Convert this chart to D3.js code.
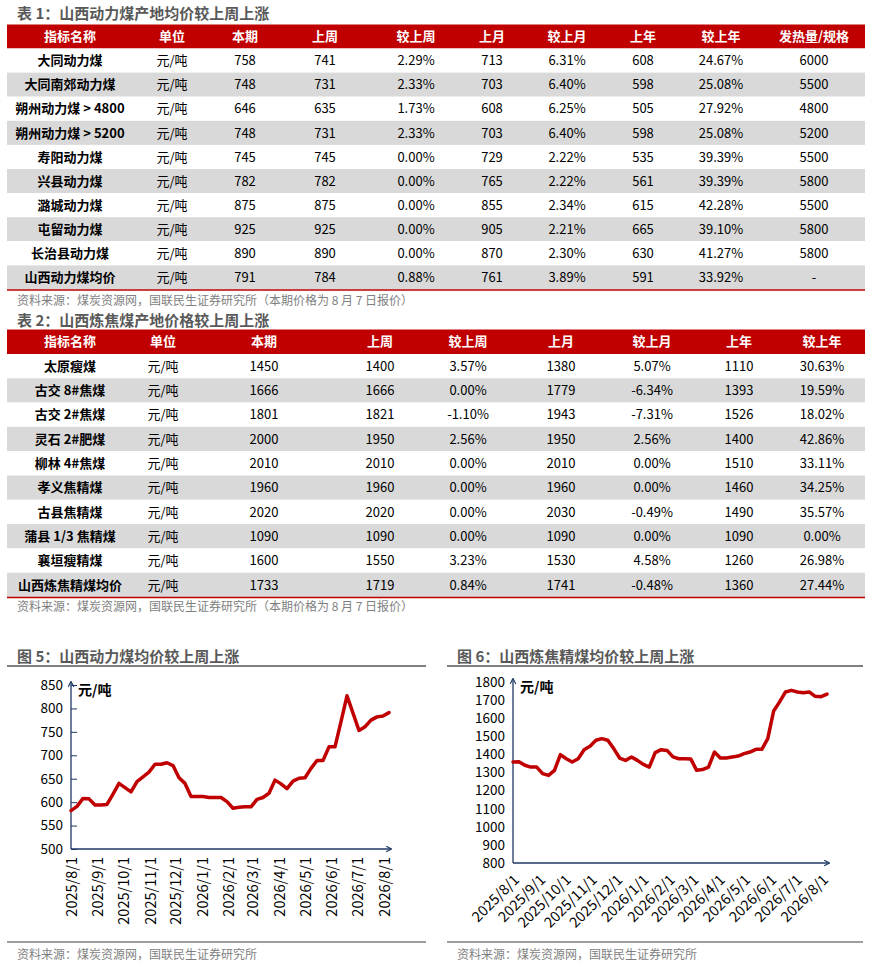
<!DOCTYPE html>
<html>
<head>
<meta charset="utf-8">
<script src="https://cdn.jsdelivr.net/npm/d3@7"></script>
<style>
  html, body { margin: 0; padding: 0; background: #fff; }
  svg { display: block; font-family: "Noto Sans CJK SC", "Noto Sans", sans-serif; }
</style>
</head>
<body>
<div id="chart"></div>
<script>
// ---- table 1: 山西动力煤 ----
const t1Header = ['指标名称', '单位', '本期', '上周', '较上周', '上月', '较上月', '上年', '较上年', '发热量/规格'];
const t1Names = ['大同动力煤', '大同南郊动力煤', '朔州动力煤 > 4800', '朔州动力煤 > 5200', '寿阳动力煤',
  '兴县动力煤', '潞城动力煤', '屯留动力煤', '长治县动力煤', '山西动力煤均价'];
const t1Current = [758, 748, 646, 748, 745, 782, 875, 925, 890, 791];
const t1LastWeek = [741, 731, 635, 731, 745, 782, 875, 925, 890, 784];
const t1WoW = ['2.29%', '2.33%', '1.73%', '2.33%', '0.00%', '0.00%', '0.00%', '0.00%', '0.00%', '0.88%'];
const t1LastMonth = [713, 703, 608, 703, 729, 765, 855, 905, 870, 761];
const t1MoM = ['6.31%', '6.40%', '6.25%', '6.40%', '2.22%', '2.22%', '2.34%', '2.21%', '2.30%', '3.89%'];
const t1LastYear = [608, 598, 505, 598, 535, 561, 615, 665, 630, 591];
const t1YoY = ['24.67%', '25.08%', '27.92%', '25.08%', '39.39%', '39.39%', '42.28%', '39.10%', '41.27%', '33.92%'];
const t1Spec = ['6000', '5500', '4800', '5200', '5500', '5800', '5500', '5800', '5800', '-'];

// ---- table 2: 山西炼焦煤 ----
const t2Header = ['指标名称', '单位', '本期', '上周', '较上周', '上月', '较上月', '上年', '较上年'];
const t2Names = ['太原瘦煤', '古交 8#焦煤', '古交 2#焦煤', '灵石 2#肥煤', '柳林 4#焦煤', '孝义焦精煤',
  '古县焦精煤', '蒲县 1/3 焦精煤', '襄垣瘦精煤', '山西炼焦精煤均价'];
const t2Current = [1450, 1666, 1801, 2000, 2010, 1960, 2020, 1090, 1600, 1733];
const t2LastWeek = [1400, 1666, 1821, 1950, 2010, 1960, 2020, 1090, 1550, 1719];
const t2WoW = ['3.57%', '0.00%', '-1.10%', '2.56%', '0.00%', '0.00%', '0.00%', '0.00%', '3.23%', '0.84%'];
const t2LastMonth = [1380, 1779, 1943, 1950, 2010, 1960, 2030, 1090, 1530, 1741];
const t2MoM = ['5.07%', '-6.34%', '-7.31%', '2.56%', '0.00%', '0.00%', '-0.49%', '0.00%', '4.58%', '-0.48%'];
const t2LastYear = [1110, 1393, 1526, 1400, 1510, 1460, 1490, 1090, 1260, 1360];
const t2YoY = ['30.63%', '19.59%', '18.02%', '42.86%', '33.11%', '34.25%', '35.57%', '0.00%', '26.98%', '27.44%'];

// ---- weekly series (from 2025/8/1) ----
const seriesStart = '2025-08-01';
const steamPrice = [582, 591, 608, 607, 594, 594, 595, 617, 640, 631, 622, 644, 654, 664, 681, 681, 684, 678,
  652, 640, 612, 612, 612, 610, 610, 610, 601, 587, 589, 590, 590, 606, 610, 619, 647, 639, 629, 645,
  651, 652, 672, 689, 689, 718, 718, 772, 827, 790, 753, 761, 775, 782, 784, 791];
const cokingPrice = [1358, 1360, 1340, 1330, 1330, 1294, 1284, 1312, 1399, 1376, 1358, 1376, 1426, 1445, 1478,
  1487, 1478, 1432, 1380, 1367, 1386, 1367, 1345, 1330, 1410, 1426, 1422, 1386, 1376, 1376, 1375, 1312,
  1316, 1330, 1413, 1380, 1380, 1386, 1391, 1404, 1413, 1428, 1428, 1487, 1640, 1690, 1745, 1754, 1745,
  1741, 1745, 1721, 1719, 1733];
const steamTicks = [500, 550, 600, 650, 700, 750, 800, 850];
const cokingTicks = [800, 900, 1000, 1100, 1200, 1300, 1400, 1500, 1600, 1700, 1800];

const RED = '#c00000';
const GREY_ROW = '#d9d9d9';
const TITLE = '#595959';
const NOTE = '#7f7f7f';
const AXIS = '#1f3864';

const svg = d3.select('#chart').append('svg')
  .attr('width', 873).attr('height', 969);

svg.append('defs').append('marker')
  .attr('id', 'arrow')
  .attr('viewBox', '0 0 10 10')
  .attr('refX', 8).attr('refY', 5)
  .attr('markerWidth', 7).attr('markerHeight', 7)
  .attr('markerUnits', 'userSpaceOnUse')
  .attr('orient', 'auto')
  .append('path')
  .attr('d', 'M1,1 L9,5 L1,9')
  .attr('fill', 'none')
  .attr('stroke', AXIS)
  .attr('stroke-width', 1.6);

function title(x, y, text) {
  svg.append('text').attr('x', x).attr('y', y)
    .attr('font-size', 15).attr('font-weight', 'bold').attr('fill', TITLE)
    .text(text);
}

function note(x, y, text) {
  svg.append('text').attr('x', x).attr('y', y)
    .attr('font-size', 12).attr('fill', NOTE)
    .text(text);
}

// draw a table: columns is a list of arrays, first one row names
function drawTable(opt) {
  const { top, headH, rowH, left, right, centers, header, columns } = opt;
  const g = svg.append('g');
  const nRows = columns[0].length;

  g.append('rect').attr('x', left).attr('y', top)
    .attr('width', right - left).attr('height', headH).attr('fill', RED);

  g.selectAll('text.head').data(header).enter().append('text')
    .attr('class', 'head')
    .attr('x', (d, i) => centers[i])
    .attr('y', top + headH / 2)
    .attr('dy', '0.36em')
    .attr('text-anchor', 'middle')
    .attr('font-size', 13).attr('font-weight', 'bold').attr('fill', '#fff')
    .text(d => d);

  const rows = g.selectAll('g.row').data(d3.range(nRows)).enter().append('g')
    .attr('class', 'row')
    .attr('transform', i => `translate(0,${top + headH + i * rowH})`);

  rows.append('rect')
    .attr('x', left).attr('width', right - left).attr('height', rowH)
    .attr('fill', i => i % 2 === 1 ? GREY_ROW : '#fff');

  columns.forEach((col, c) => {
    rows.append('text')
      .attr('x', centers[c])
      .attr('y', rowH / 2)
      .attr('dy', '0.36em')
      .attr('text-anchor', 'middle')
      .attr('font-size', 13)
      .attr('font-weight', c === 0 ? 'bold' : 'normal')
      .attr('fill', '#000')
      .text(i => col[i]);
  });

  const bottom = top + headH + nRows * rowH;
  g.append('line').attr('x1', left).attr('x2', right)
    .attr('y1', bottom + 0.5).attr('y2', bottom + 0.5)
    .attr('stroke', RED).attr('stroke-width', 1.5);
}

const units = t1Names.map(() => '元/吨');

title(17, 19, '表 1：山西动力煤产地均价较上周上涨');
drawTable({
  top: 24.5, headH: 24, rowH: 24.1, left: 7, right: 865,
  centers: [70, 172, 245, 325, 416, 492, 567, 643, 721, 814],
  header: t1Header,
  columns: [t1Names, units, t1Current, t1LastWeek, t1WoW, t1LastMonth, t1MoM, t1LastYear, t1YoY, t1Spec]
});
note(17, 305, '资料来源：煤炭资源网，国联民生证券研究所（本期价格为 8 月 7 日报价）');

title(17, 326, '表 2：山西炼焦煤产地价格较上周上涨');
drawTable({
  top: 329.5, headH: 24.5, rowH: 24.3, left: 7, right: 865,
  centers: [70, 163, 264, 380, 468, 561, 652, 739, 822],
  header: t2Header,
  columns: [t2Names, units, t2Current, t2LastWeek, t2WoW, t2LastMonth, t2MoM, t2LastYear, t2YoY]
});
note(17, 611, '资料来源：煤炭资源网，国联民生证券研究所（本期价格为 8 月 7 日报价）');

// ---- line charts ----
const start = d3.timeParse('%Y-%m-%d')(seriesStart);

function drawLineChart(opt) {
  const { frameL, frameR, titleText, values, yDomain, yTicks, xRange, yRange, rotate, ticksInside } = opt;
  const dates = values.map((v, i) => d3.timeDay.offset(start, i * 7));
  const data = values.map((v, i) => ({ date: dates[i], value: v }));

  title(frameL + 10, 662, titleText);
  svg.append('line').attr('x1', frameL).attr('x2', frameR)
    .attr('y1', 666).attr('y2', 666)
    .attr('stroke', '#7f7f7f').attr('stroke-width', 2);
  svg.append('line').attr('x1', frameL).attr('x2', frameR)
    .attr('y1', 942).attr('y2', 942)
    .attr('stroke', '#7f7f7f').attr('stroke-width', 1.5);
  note(frameL + 10, 959, '资料来源：煤炭资源网，国联民生证券研究所');

  const x = d3.scaleTime().domain([dates[0], dates[dates.length - 1]]).range(xRange);
  const y = d3.scaleLinear().domain(yDomain).range(yRange);

  const g = svg.append('g');

  // y axis labels
  const yAxis = d3.axisLeft(y).tickValues(yTicks).tickFormat(d3.format('d'))
    .tickSize(ticksInside ? -6 : 0).tickPadding(8);
  const ya = g.append('g').attr('transform', `translate(${xRange[0]},0)`).call(yAxis);
  ya.select('.domain').remove();
  ya.selectAll('line').attr('stroke', AXIS).attr('stroke-width', 1);
  ya.selectAll('text').attr('font-size', 13.5).attr('fill', '#000')
    .attr('font-family', '"Noto Sans CJK SC", sans-serif');

  // x axis labels
  const xAxis = d3.axisBottom(x)
    .ticks(d3.timeMonth.every(1))
    .tickFormat(d3.timeFormat('%Y/%-m/%-d'))
    .tickSize(0);
  const xa = g.append('g').attr('transform', `translate(0,${yRange[0]})`).call(xAxis);
  xa.select('.domain').remove();
  const xt = xa.selectAll('text').attr('font-size', 14.5).attr('fill', '#000')
    .attr('font-family', '"Noto Sans CJK SC", sans-serif')
    .attr('text-anchor', 'end');
  if (rotate === -90) {
    xt.attr('transform', 'translate(0,8) rotate(-90)').attr('x', 0).attr('y', 0).attr('dy', '0.36em');
  } else {
    xt.attr('transform', 'translate(3,14) rotate(-45)').attr('x', 0).attr('y', 0).attr('dy', '0.36em');
  }

  // axis lines with arrows
  g.append('line')
    .attr('x1', xRange[0]).attr('x2', xRange[0])
    .attr('y1', yRange[0]).attr('y2', yRange[1] - 3)
    .attr('stroke', AXIS).attr('stroke-width', 1.3)
    .attr('marker-end', 'url(#arrow)');
  g.append('line')
    .attr('x1', xRange[0]).attr('x2', xRange[1] + 2)
    .attr('y1', yRange[0]).attr('y2', yRange[0])
    .attr('stroke', AXIS).attr('stroke-width', 1.3)
    .attr('marker-end', 'url(#arrow)');

  g.append('text')
    .attr('x', xRange[0] + 7).attr('y', yRange[1] + 10)
    .attr('font-size', 14).attr('font-weight', 'bold').attr('fill', '#000')
    .text('元/吨');

  const line = d3.line().x(d => x(d.date)).y(d => y(d.value));
  g.append('path').datum(data)
    .attr('d', line)
    .attr('fill', 'none')
    .attr('stroke', RED)
    .attr('stroke-width', 3.5)
    .attr('stroke-linejoin', 'round')
    .attr('stroke-linecap', 'round');
}

drawLineChart({
  frameL: 7, frameR: 426,
  titleText: '图 5：山西动力煤均价较上周上涨',
  values: steamPrice,
  yDomain: [500, 850], yTicks: steamTicks,
  xRange: [71, 389], yRange: [849, 685],
  rotate: -90, ticksInside: true
});

drawLineChart({
  frameL: 447, frameR: 863,
  titleText: '图 6：山西炼焦精煤均价较上周上涨',
  values: cokingPrice,
  yDomain: [800, 1800], yTicks: cokingTicks,
  xRange: [513, 827], yRange: [863, 682],
  rotate: -45, ticksInside: false
});
</script>
</body>
</html>
